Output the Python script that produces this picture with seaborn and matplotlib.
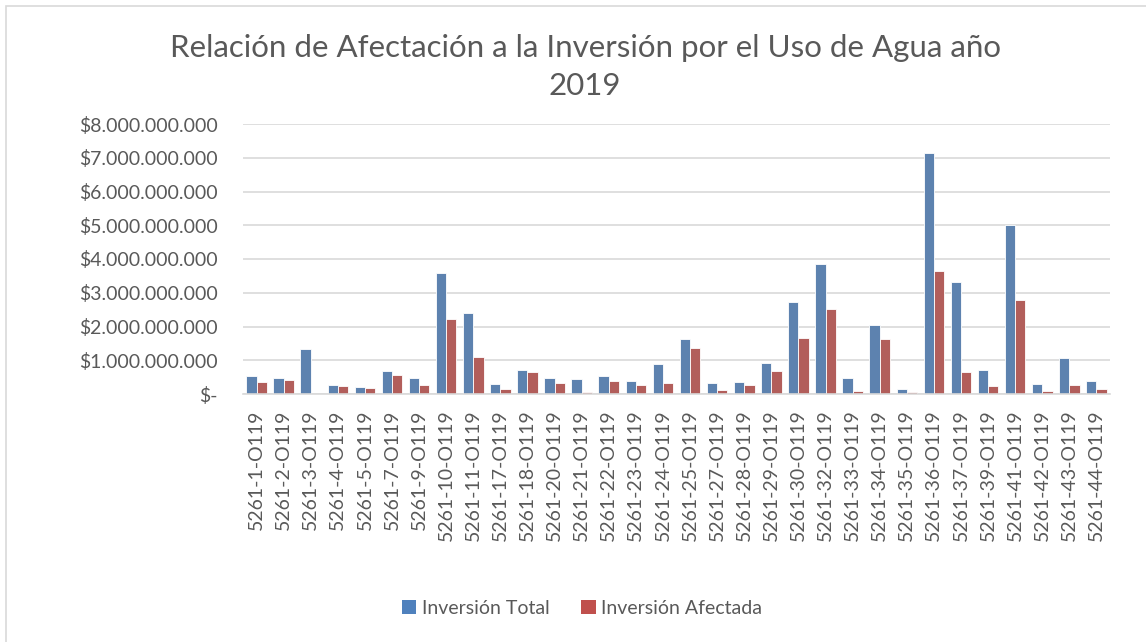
import matplotlib
matplotlib.use("Agg")
import matplotlib.pyplot as plt
import seaborn as sns
import pandas as pd
from matplotlib.patches import Rectangle, Patch
from matplotlib.ticker import FuncFormatter, MultipleLocator

categories = ["5261-1-O119", "5261-2-O119", "5261-3-O119", "5261-4-O119", "5261-5-O119",
              "5261-7-O119", "5261-9-O119", "5261-10-O119", "5261-11-O119", "5261-17-O119",
              "5261-18-O119", "5261-20-O119", "5261-21-O119", "5261-22-O119", "5261-23-O119",
              "5261-24-O119", "5261-25-O119", "5261-27-O119", "5261-28-O119", "5261-29-O119",
              "5261-30-O119", "5261-32-O119", "5261-33-O119", "5261-34-O119", "5261-35-O119",
              "5261-36-O119", "5261-37-O119", "5261-39-O119", "5261-41-O119", "5261-42-O119",
              "5261-43-O119", "5261-44-O119"]

# values in billions of pesos
inversion_total = [0.54, 0.48, 1.34, 0.26, 0.20, 0.69, 0.46, 3.58, 2.40, 0.30,
                   0.72, 0.48, 0.43, 0.54, 0.39, 0.89, 1.63, 0.34, 0.36, 0.92,
                   2.74, 3.86, 0.47, 2.05, 0.14, 7.13, 3.31, 0.71, 5.00, 0.29,
                   1.06, 0.40]
inversion_afectada = [0.37, 0.42, 0.0, 0.23, 0.18, 0.57, 0.28, 2.22, 1.11, 0.15,
                      0.66, 0.33, 0.07, 0.39, 0.28, 0.34, 1.35, 0.12, 0.28, 0.69,
                      1.66, 2.53, 0.08, 1.63, 0.06, 3.64, 0.66, 0.25, 2.79, 0.10,
                      0.28, 0.16]

series_names = ["Inversión Total", "Inversión Afectada"]
colors = ["#4F81BD", "#C0504D"]
text_color = "#595959"

df = pd.DataFrame({
    "Proyecto": categories * 2,
    "Serie": [series_names[0]] * len(categories) + [series_names[1]] * len(categories),
    "Valor": [v * 1e9 for v in inversion_total] + [v * 1e9 for v in inversion_afectada],
})

sns.set_theme(style="white")
plt.rcParams["font.family"] = ["Lato", "DejaVu Sans"]

fig = plt.figure(figsize=(11.46, 6.42), dpi=100)
ax = fig.add_axes([243 / 1146, 1 - 394 / 642, (1110 - 243) / 1146, (394 - 124) / 642])

sns.barplot(data=df, x="Proyecto", y="Valor", hue="Serie", palette=colors,
            width=0.76, edgecolor="white", linewidth=0.6, ax=ax, legend=False)

ax.set_ylim(0, 8e9)
ax.set_xlim(-0.5, len(categories) - 0.5)
ax.yaxis.set_major_locator(MultipleLocator(1e9))


def fmt(v, pos):
    if abs(v) < 1:
        return "$-"
    return "$" + f"{v:,.0f}".replace(",", ".")


ax.yaxis.set_major_formatter(FuncFormatter(fmt))
ax.grid(axis="y", color="#D9D9D9", linewidth=1.2)
ax.set_axisbelow(True)
for s in ["top", "right", "left"]:
    ax.spines[s].set_visible(False)
ax.spines["bottom"].set_color("#D9D9D9")
ax.spines["bottom"].set_linewidth(1.2)
ax.set_xlabel("")
ax.set_ylabel("")
ax.tick_params(axis="y", length=0, pad=18, labelsize=14, labelcolor=text_color)
ax.tick_params(axis="x", length=0, pad=11, labelsize=14, labelcolor=text_color, rotation=90)

fig.text(585 / 1146, 1 - 67 / 642,
         "Relación de Afectación a la Inversión por el Uso de Agua año\n2019",
         ha="center", va="center", fontsize=22.5, color=text_color, linespacing=1.45)

handles = [Patch(facecolor=c, edgecolor="none") for c in colors]
fig.legend(handles, series_names, loc="center", bbox_to_anchor=(582 / 1146, 1 - 608 / 642),
           ncol=2, frameon=False, fontsize=14, labelcolor=text_color,
           handlelength=0.75, handleheight=0.75, handletextpad=0.3, columnspacing=1.6)

fig.patches.append(Rectangle((6 / 1146, -0.1), 1.2, 1 - 6 / 642 + 0.1,
                             transform=fig.transFigure, fill=False,
                             edgecolor="#D9D9D9", linewidth=1.2, zorder=0))

fig.savefig("out.png", dpi=100)
